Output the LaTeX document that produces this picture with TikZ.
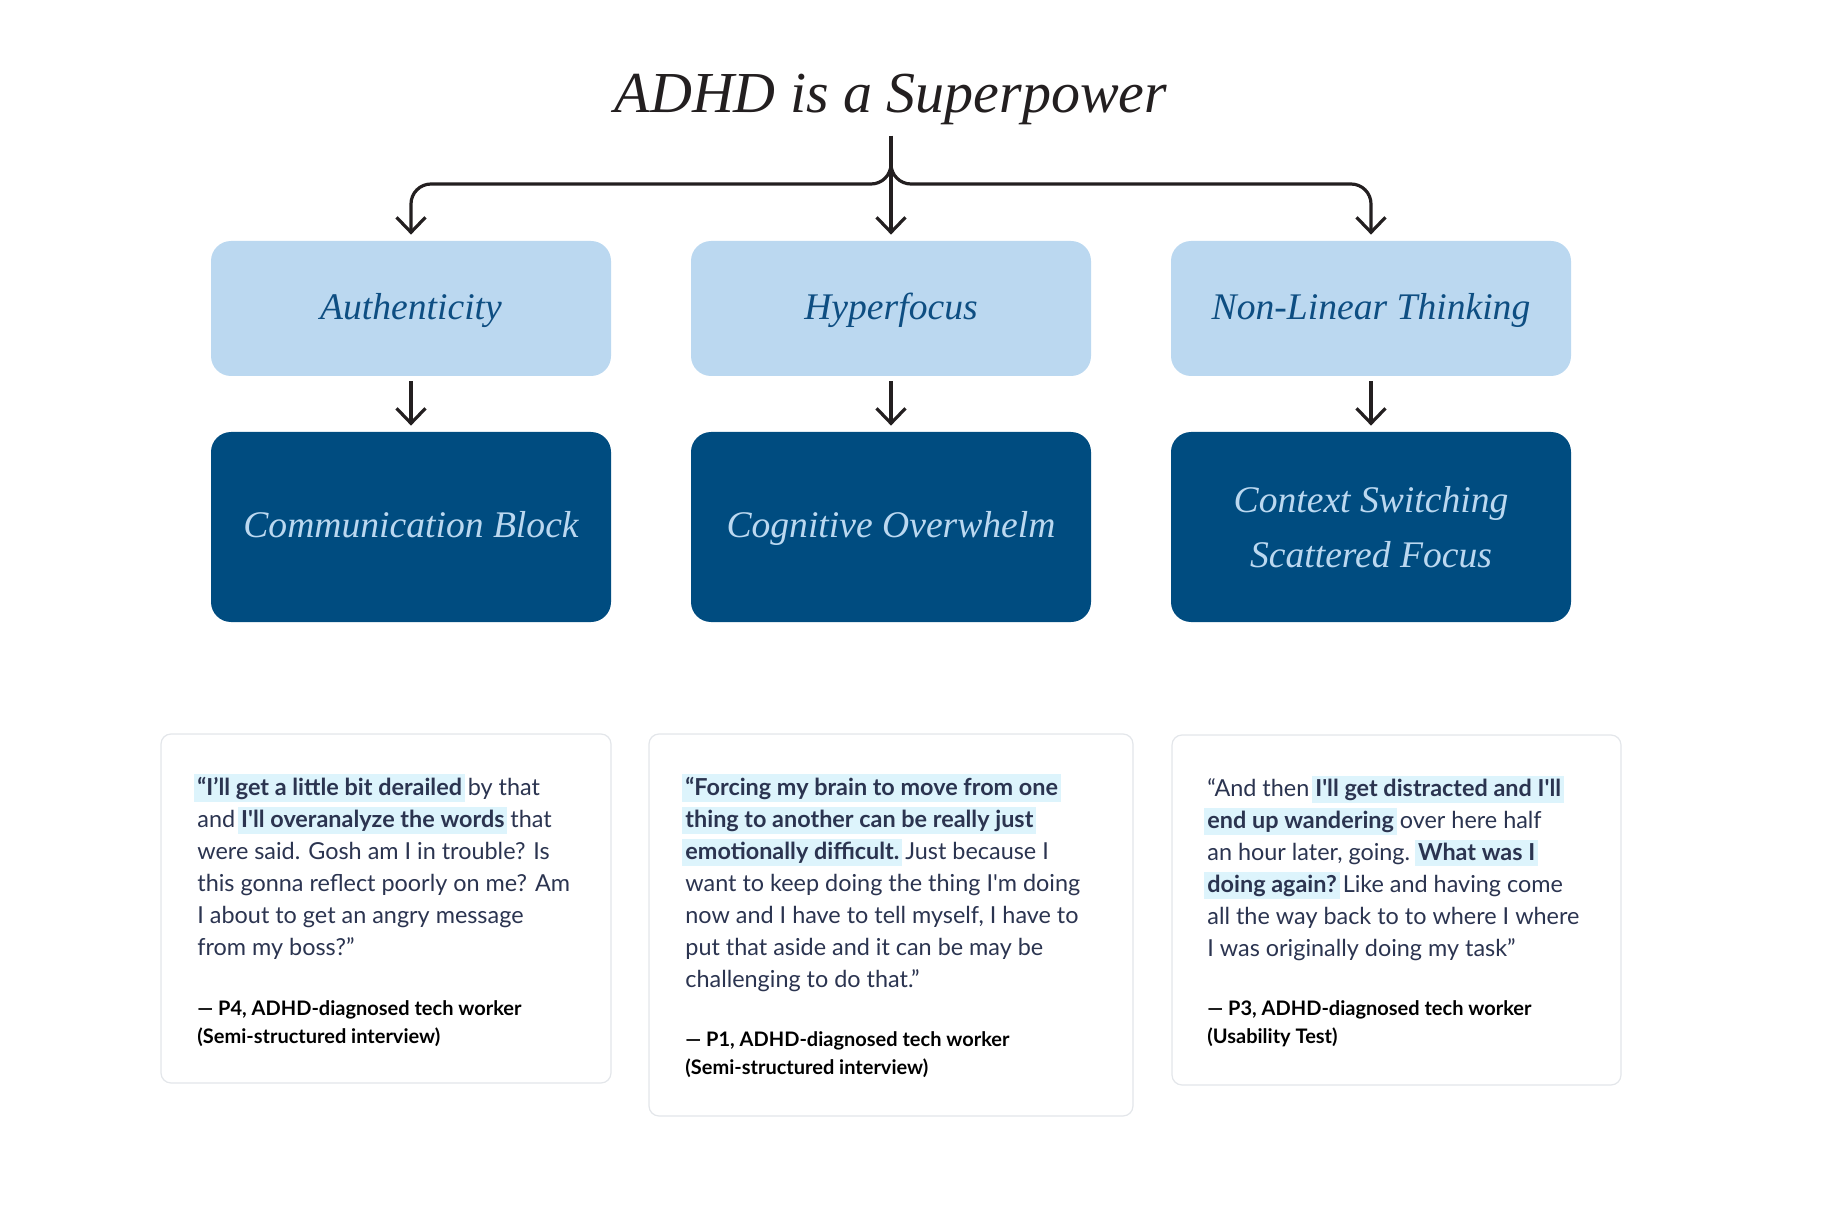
\documentclass[tikz,border=0pt]{standalone}
\usepackage{fontspec}
\usepackage{xcolor}
\usetikzlibrary{arrows.meta,positioning,calc}
\newfontfamily\headfont{Liberation Serif}
\newfontfamily\quotefont{Lato}
\definecolor{paleblue}{HTML}{BBD8F0}
\definecolor{navyblue}{HTML}{004C80}
\definecolor{inkblue}{HTML}{0E4E82}
\definecolor{inkdark}{HTML}{231F20}
\definecolor{hlcyan}{HTML}{DDF4FC}
\definecolor{quoteink}{HTML}{2B3450}
\definecolor{cardline}{HTML}{E3E6EA}
\newcommand{\hl}[1]{\hspace*{-1.5pt}{\setlength{\fboxsep}{1.5pt}\colorbox{hlcyan}{\rule[-1.5pt]{0pt}{10.2pt}\textbf{#1}}}\hspace*{-1.5pt}}

\begin{document}
\begin{tikzpicture}[
    x=0.5pt, y=-0.5pt,
    heading/.style={font=\headfont\itshape\fontsize{29}{34}\selectfont, text=inkdark, inner sep=5pt},
    strength/.style={rounded corners=10pt, minimum width=200pt, minimum height=67.5pt, align=center, fill=paleblue, text=inkblue, font=\headfont\itshape\fontsize{18.8}{27.5}\selectfont},
    struggle/.style={strength, minimum height=95pt, fill=navyblue, text=paleblue},
    oneline/.style={text height=14pt, text depth=3pt},
    card/.style={draw=cardline, line width=0.6pt, rounded corners=5pt, fill=white},
    quotetext/.style={anchor=base west, inner sep=0pt, align=left, text=quoteink, font=\quotefont\fontsize{11.7}{16}\selectfont},
    credit/.style={anchor=base west, inner sep=0pt, align=left, text=black, font=\quotefont\bfseries\fontsize{10}{14}\selectfont},
    arr/.style={-{Straight Barb[length=7.5pt, width=14.5pt]}, line width=1.6pt, draw=inkdark, shorten >=3pt},
]
    \useasboundingbox (0,0) rectangle (1822,1225);

    % Title
    \node[heading, anchor=base] (title) at (891,113) {ADHD is a Superpower};

    % Strengths
    \node[strength, oneline] (auth) at (411,308.5) {Authenticity};
    \node[strength, oneline] (hyper) at (891,308.5) {Hyperfocus};
    \node[strength, oneline] (nonlin) at (1371,308.5) {Non-Linear Thinking};

    % Struggles
    \node[struggle, oneline] (commblock) at (411,527) {Communication Block};
    \node[struggle, oneline] (overwhelm) at (891,527) {Cognitive Overwhelm};
    \node[struggle] (scatter) at (1371,527) {Context Switching\\Scattered Focus};

    % Branch points
    \coordinate (fork) at (891,164);
    \coordinate (bar) at (891,184);

    % Arrows
    \draw[arr] (title) -- (hyper);
    \draw[arr, rounded corners=10pt] (fork) -- (bar) -| (auth);
    \draw[arr, rounded corners=10pt] (fork) -- (bar) -| (nonlin);
    \draw[arr, shorten <=2.5pt] (auth) -- (commblock);
    \draw[arr, shorten <=2.5pt] (hyper) -- (overwhelm);
    \draw[arr, shorten <=2.5pt] (nonlin) -- (scatter);

    % Quote cards
    \node[card, minimum width=225pt, minimum height=174.5pt] (cardA) at (386,908.5) {};
    \node[card, minimum width=242pt, minimum height=191pt] (cardB) at (891,925) {};
    \node[card, minimum width=224.5pt, minimum height=175pt] (cardC) at (1396.5,910) {};

    % Quotes (placed by the baseline of their last line)
    \node[quotetext] (quoteA) at (197,955) {\hl{“I’ll get a little bit derailed} by that\\
        and \hl{I'll overanalyze the words} that\\
        were said. Gosh am I in trouble? Is\\
        this gonna reflect poorly on me? Am\\
        I about to get an angry message\\
        from my boss?”};
    \node[quotetext] (quoteB) at (685,987) {\hl{“Forcing my brain to move from one}\\
        \hl{thing to another can be really just}\\
        \hl{emotionally difficult.} Just because I\\
        want to keep doing the thing I'm doing\\
        now and I have to tell myself, I have to\\
        put that aside and it can be may be\\
        challenging to do that.”};
    \node[quotetext] (quoteC) at (1207,956) {“And then \hl{I'll get distracted and I'll}\\
        \hl{end up wandering} over here half\\
        an hour later, going. \hl{What was I}\\
        \hl{doing again?} Like and having come\\
        all the way back to to where I where\\
        I was originally doing my task”};

    % Sources
    \node[credit] (creditA) at (197,1043) {— P4, ADHD-diagnosed tech worker\\(Semi-structured interview)};
    \node[credit] (creditB) at (685,1074) {— P1, ADHD-diagnosed tech worker\\(Semi-structured interview)};
    \node[credit] (creditC) at (1207,1043) {— P3, ADHD-diagnosed tech worker\\(Usability Test)};
\end{tikzpicture}
\end{document}
